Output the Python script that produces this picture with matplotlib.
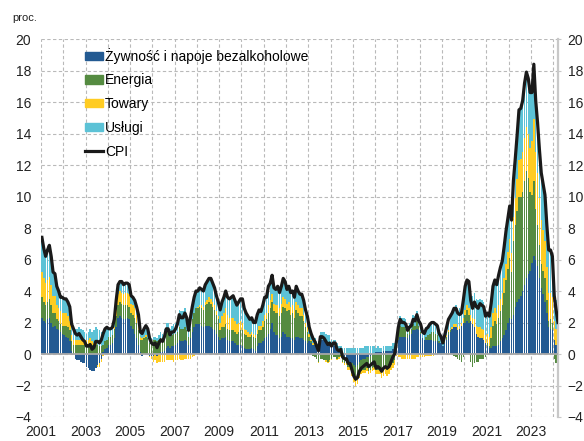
import numpy as np
import matplotlib
matplotlib.use("Agg")
import matplotlib.pyplot as plt
from matplotlib.patches import Patch
from matplotlib.lines import Line2D

plt.rcParams['font.family'] = ['Liberation Sans', 'DejaVu Sans']

START_YEAR = 2001

# CPI y/y, proc. (monthly, Jan 2001 - Mar 2024)
cpi = [
    7.4, 6.7, 6.2, 6.6, 6.9, 6.2, 5.2, 5.1, 4.3, 4.0, 3.6, 3.6,         # 2001
    3.5, 3.5, 3.3, 3.0, 1.9, 1.6, 1.3, 1.2, 1.3, 1.1, 0.9, 0.8,         # 2002
    0.5, 0.5, 0.6, 0.3, 0.4, 0.8, 0.8, 0.7, 0.9, 1.3, 1.6, 1.7,         # 2003
    1.6, 1.6, 1.7, 2.2, 3.4, 4.4, 4.6, 4.6, 4.4, 4.5, 4.5, 4.4,         # 2004
    3.7, 3.6, 3.4, 3.0, 2.5, 1.4, 1.3, 1.6, 1.8, 1.6, 1.0, 0.7,         # 2005
    0.6, 0.7, 0.4, 0.7, 0.9, 0.8, 1.1, 1.6, 1.6, 1.2, 1.4, 1.4,         # 2006
    1.6, 1.9, 2.5, 2.3, 2.3, 2.6, 2.3, 1.5, 2.3, 3.0, 3.6, 4.0,         # 2007
    4.0, 4.2, 4.1, 4.0, 4.4, 4.6, 4.8, 4.8, 4.5, 4.2, 3.7, 3.3,         # 2008
    2.8, 3.3, 3.6, 4.0, 3.6, 3.5, 3.6, 3.7, 3.4, 3.1, 3.3, 3.5,         # 2009
    3.5, 2.9, 2.6, 2.4, 2.2, 2.3, 2.0, 2.0, 2.5, 2.8, 2.7, 3.1,         # 2010
    3.6, 3.6, 4.3, 4.5, 5.0, 4.2, 4.1, 4.3, 3.9, 4.3, 4.8, 4.6,         # 2011
    4.1, 4.3, 3.9, 4.0, 3.6, 4.3, 4.0, 3.8, 3.8, 3.4, 2.8, 2.4,         # 2012
    1.7, 1.3, 1.0, 0.8, 0.5, 0.2, 1.1, 1.1, 1.0, 0.8, 0.6, 0.7,         # 2013
    0.5, 0.7, 0.7, 0.3, 0.2, 0.3, -0.2, -0.3, -0.3, -0.6, -0.6, -1.0,   # 2014
    -1.4, -1.6, -1.5, -1.1, -0.9, -0.8, -0.7, -0.6, -0.8, -0.7, -0.6, -0.5,  # 2015
    -0.9, -0.8, -0.9, -1.1, -0.9, -0.8, -0.9, -0.8, -0.5, -0.2, 0.0, 0.8,    # 2016
    1.7, 2.2, 2.0, 2.0, 1.9, 1.5, 1.7, 1.8, 2.2, 2.1, 2.5, 2.1,         # 2017
    1.9, 1.4, 1.3, 1.6, 1.7, 1.9, 2.0, 2.0, 1.9, 1.8, 1.3, 1.1,         # 2018
    0.7, 1.2, 1.7, 2.2, 2.4, 2.6, 2.9, 2.9, 2.6, 2.5, 2.6, 3.4,         # 2019
    4.3, 4.7, 4.6, 3.4, 2.9, 3.3, 3.0, 2.9, 3.2, 3.1, 3.0, 2.4,         # 2020
    2.6, 2.4, 3.2, 4.3, 4.7, 4.4, 5.0, 5.5, 5.9, 6.8, 7.8, 8.6,         # 2021
    9.4, 8.5, 11.0, 12.4, 13.9, 15.5, 15.6, 16.1, 17.2, 17.9, 17.5, 16.6,   # 2022
    16.6, 18.4, 16.1, 14.7, 13.0, 11.5, 10.8, 10.1, 8.2, 6.6, 6.6, 6.2,     # 2023
    3.7, 2.8, 2.0,                                                      # 2024
]

# contributions, pp
food = [
    2.3, 2.1, 2.0, 2.2, 2.3, 2.0, 1.7, 1.8, 1.6, 1.5, 1.4, 1.3,
    1.2, 1.1, 1.0, 0.8, 0.2, 0.0, -0.3, -0.4, -0.4, -0.5, -0.6, -0.6,
    -0.8, -0.9, -1.0, -1.1, -1.1, -0.9, -0.7, -0.6, -0.3, 0.1, 0.3, 0.4,
    0.6, 0.6, 0.7, 1.0, 1.7, 2.3, 2.4, 2.3, 2.2, 2.2, 2.3, 2.2,
    1.8, 1.6, 1.3, 1.0, 0.6, 0.1, -0.1, 0.0, 0.0, 0.0, -0.1, -0.1,
    -0.1, 0.0, -0.1, 0.0, 0.1, 0.1, 0.2, 0.4, 0.5, 0.4, 0.5, 0.5,
    0.6, 0.7, 0.9, 0.8, 0.8, 0.9, 0.8, 0.6, 1.0, 1.4, 1.7, 1.9,
    1.9, 1.9, 1.8, 1.7, 1.8, 1.8, 1.8, 1.7, 1.6, 1.5, 1.3, 1.1,
    0.9, 1.0, 1.0, 1.1, 0.9, 0.8, 0.8, 0.8, 0.7, 0.6, 0.6, 0.6,
    0.5, 0.4, 0.3, 0.3, 0.3, 0.4, 0.3, 0.2, 0.5, 0.7, 0.7, 0.8,
    1.0, 1.1, 1.3, 1.6, 2.0, 1.4, 1.2, 1.2, 1.0, 1.1, 1.4, 1.3,
    1.1, 1.1, 1.0, 1.0, 0.9, 1.1, 1.1, 1.0, 1.0, 0.9, 0.8, 0.7,
    0.8, 0.7, 0.6, 0.6, 0.5, 0.5, 0.9, 0.9, 0.9, 0.8, 0.7, 0.7,
    0.5, 0.5, 0.5, 0.3, 0.1, 0.0, -0.3, -0.4, -0.4, -0.5, -0.5, -0.6,
    -0.7, -0.8, -0.7, -0.5, -0.4, -0.3, -0.3, -0.2, -0.2, -0.1, 0.0, 0.0,
    0.1, 0.1, 0.1, 0.1, 0.2, 0.2, 0.2, 0.2, 0.2, 0.3, 0.3, 0.4,
    0.9, 1.1, 1.1, 1.1, 1.1, 1.0, 1.2, 1.3, 1.5, 1.5, 1.6, 1.5,
    1.3, 1.0, 0.9, 0.9, 0.9, 0.9, 0.9, 0.8, 0.8, 0.8, 0.7, 0.7,
    0.5, 0.7, 0.9, 1.2, 1.4, 1.6, 1.7, 1.7, 1.5, 1.6, 1.8, 2.0,
    2.0, 2.1, 2.0, 2.1, 1.9, 1.7, 1.3, 1.1, 1.0, 1.0, 0.9, 0.7,
    0.5, 0.4, 0.4, 0.5, 0.5, 0.5, 0.6, 0.8, 1.0, 1.2, 1.5, 2.0,
    2.3, 2.2, 2.5, 3.0, 3.3, 3.5, 3.7, 4.0, 4.4, 4.8, 5.1, 5.3,
    5.8, 6.2, 6.0, 5.6, 4.8, 4.2, 3.8, 3.3, 2.6, 1.7, 1.6, 1.5,
    0.9, 0.6, 0.5,
]

energy = [
    1.3, 1.2, 1.1, 1.1, 1.2, 1.1, 0.9, 0.8, 0.6, 0.6, 0.5, 0.5,
    0.6, 0.7, 0.7, 0.7, 0.6, 0.6, 0.6, 0.6, 0.6, 0.6, 0.6, 0.6,
    0.6, 0.6, 0.7, 0.6, 0.5, 0.6, 0.6, 0.5, 0.5, 0.5, 0.5, 0.5,
    0.5, 0.5, 0.5, 0.6, 0.7, 0.8, 0.9, 0.9, 0.9, 0.9, 0.8, 0.8,
    0.8, 0.9, 1.0, 1.0, 0.9, 0.8, 0.9, 1.0, 1.1, 1.0, 0.7, 0.6,
    0.9, 0.9, 0.8, 0.9, 0.9, 0.8, 0.9, 1.0, 0.9, 0.7, 0.7, 0.8,
    0.7, 0.7, 0.8, 0.8, 0.8, 0.8, 0.7, 0.5, 0.6, 0.8, 0.9, 1.0,
    1.0, 1.1, 1.1, 1.1, 1.3, 1.4, 1.5, 1.5, 1.4, 1.3, 1.2, 1.1,
    0.6, 0.7, 0.7, 0.8, 0.7, 0.7, 0.7, 0.7, 0.7, 0.7, 0.8, 0.9,
    1.0, 0.9, 0.9, 0.8, 0.8, 0.8, 0.8, 0.8, 0.8, 0.8, 0.8, 0.9,
    1.1, 1.1, 1.3, 1.3, 1.3, 1.3, 1.4, 1.4, 1.4, 1.5, 1.6, 1.6,
    1.6, 1.7, 1.5, 1.6, 1.4, 1.7, 1.5, 1.4, 1.4, 1.2, 0.9, 0.7,
    0.3, 0.1, -0.1, -0.2, -0.3, -0.5, -0.3, -0.3, -0.4, -0.4, -0.5, -0.4,
    -0.3, -0.2, -0.2, -0.3, -0.2, -0.1, -0.2, -0.2, -0.2, -0.3, -0.3, -0.6,
    -0.8, -0.9, -0.9, -0.8, -0.7, -0.7, -0.7, -0.7, -0.9, -0.9, -0.9, -0.8,
    -1.0, -1.0, -1.0, -1.1, -1.0, -0.9, -1.0, -0.9, -0.7, -0.6, -0.4, 0.0,
    0.6, 0.7, 0.6, 0.6, 0.5, 0.3, 0.3, 0.3, 0.4, 0.3, 0.5, 0.3,
    0.1, 0.0, 0.0, 0.2, 0.3, 0.4, 0.5, 0.6, 0.5, 0.4, 0.1, 0.0,
    0.0, 0.1, 0.2, 0.2, 0.1, 0.0, -0.1, -0.2, -0.3, -0.4, -0.5, -0.2,
    0.5, 0.7, 0.5, -0.5, -0.8, -0.6, -0.5, -0.5, -0.3, -0.3, -0.3, -0.2,
    0.2, 0.1, 0.6, 1.3, 1.6, 1.4, 1.7, 1.9, 2.1, 2.7, 3.2, 3.4,
    3.8, 3.0, 4.7, 5.2, 5.8, 6.5, 6.3, 6.3, 6.6, 6.8, 6.1, 5.0,
    4.3, 4.8, 3.2, 2.6, 2.1, 1.5, 1.5, 1.5, 0.8, 0.4, 0.6, 0.5,
    -0.3, -0.6, -0.9,
]

goods = [
    1.6, 1.5, 1.4, 1.4, 1.4, 1.3, 1.1, 1.1, 0.9, 0.8, 0.8, 0.8,
    0.8, 0.8, 0.7, 0.6, 0.4, 0.3, 0.3, 0.3, 0.3, 0.3, 0.3, 0.3,
    0.3, 0.3, 0.3, 0.2, 0.2, 0.1, -0.1, -0.2, -0.2, -0.1, 0.0, 0.0,
    0.0, 0.0, 0.0, 0.1, 0.4, 0.7, 0.7, 0.7, 0.7, 0.8, 0.8, 0.8,
    0.6, 0.6, 0.6, 0.5, 0.5, 0.2, 0.1, 0.1, 0.1, 0.0, -0.1, -0.2,
    -0.4, -0.4, -0.5, -0.5, -0.5, -0.5, -0.5, -0.4, -0.4, -0.4, -0.4, -0.5,
    -0.4, -0.4, -0.3, -0.4, -0.4, -0.3, -0.3, -0.3, -0.3, -0.2, -0.1, 0.0,
    0.1, 0.1, 0.2, 0.2, 0.2, 0.2, 0.3, 0.3, 0.3, 0.3, 0.2, 0.2,
    0.5, 0.7, 0.9, 1.0, 0.9, 0.8, 0.8, 0.8, 0.7, 0.6, 0.6, 0.6,
    0.5, 0.3, 0.3, 0.3, 0.2, 0.2, 0.2, 0.2, 0.2, 0.3, 0.3, 0.4,
    0.4, 0.4, 0.5, 0.5, 0.5, 0.5, 0.5, 0.5, 0.5, 0.6, 0.6, 0.6,
    0.5, 0.5, 0.5, 0.5, 0.5, 0.5, 0.5, 0.5, 0.5, 0.4, 0.3, 0.3,
    0.2, 0.1, 0.1, 0.0, 0.0, -0.1, 0.0, 0.0, 0.0, -0.1, -0.1, -0.1,
    -0.1, 0.0, 0.0, -0.1, -0.1, -0.1, -0.1, -0.1, -0.1, -0.2, -0.2, -0.2,
    -0.3, -0.3, -0.3, -0.2, -0.2, -0.2, -0.2, -0.2, -0.2, -0.2, -0.2, -0.2,
    -0.3, -0.3, -0.3, -0.4, -0.4, -0.4, -0.4, -0.4, -0.3, -0.3, -0.3, -0.1,
    -0.2, -0.2, -0.3, -0.3, -0.3, -0.3, -0.3, -0.3, -0.3, -0.3, -0.2, -0.2,
    -0.2, -0.2, -0.2, -0.1, -0.1, -0.1, -0.1, -0.1, 0.0, 0.0, 0.0, 0.0,
    0.0, 0.1, 0.1, 0.1, 0.1, 0.1, 0.2, 0.2, 0.2, 0.2, 0.2, 0.3,
    0.3, 0.3, 0.4, 0.4, 0.4, 0.5, 0.5, 0.6, 0.7, 0.6, 0.6, 0.5,
    0.6, 0.6, 0.7, 0.8, 0.8, 0.7, 0.8, 0.8, 0.8, 0.9, 1.0, 1.1,
    1.2, 1.2, 1.5, 1.7, 2.0, 2.3, 2.4, 2.5, 2.7, 2.8, 2.8, 2.8,
    3.4, 3.9, 3.6, 3.3, 3.0, 2.8, 2.6, 2.4, 2.1, 1.8, 1.7, 1.6,
    1.2, 1.0, 0.7,
]

services = [
    2.2, 1.9, 1.7, 1.9, 2.0, 1.8, 1.5, 1.4, 1.2, 1.1, 0.9, 1.0,
    0.9, 0.9, 0.9, 0.9, 0.7, 0.7, 0.7, 0.7, 0.8, 0.7, 0.6, 0.5,
    0.4, 0.5, 0.6, 0.6, 0.8, 1.0, 1.0, 1.0, 0.9, 0.8, 0.8, 0.8,
    0.5, 0.5, 0.5, 0.5, 0.6, 0.6, 0.6, 0.7, 0.6, 0.6, 0.6, 0.6,
    0.5, 0.5, 0.5, 0.5, 0.5, 0.3, 0.4, 0.5, 0.6, 0.6, 0.5, 0.4,
    0.2, 0.2, 0.2, 0.3, 0.4, 0.4, 0.5, 0.6, 0.6, 0.5, 0.6, 0.6,
    0.7, 0.9, 1.1, 1.1, 1.1, 1.2, 1.1, 0.7, 1.0, 1.0, 1.1, 1.1,
    1.0, 1.1, 1.0, 1.0, 1.1, 1.2, 1.2, 1.3, 1.2, 1.1, 1.0, 0.9,
    0.8, 0.9, 1.0, 1.1, 1.1, 1.2, 1.3, 1.4, 1.3, 1.2, 1.3, 1.4,
    1.5, 1.3, 1.1, 1.0, 0.9, 0.9, 0.7, 0.8, 1.0, 1.0, 0.9, 1.0,
    1.1, 1.0, 1.2, 1.1, 1.2, 1.0, 1.0, 1.2, 1.0, 1.1, 1.2, 1.1,
    0.9, 1.0, 0.9, 0.9, 0.8, 1.0, 0.9, 0.9, 0.9, 0.9, 0.8, 0.7,
    0.4, 0.4, 0.4, 0.4, 0.3, 0.3, 0.5, 0.5, 0.5, 0.5, 0.5, 0.5,
    0.4, 0.4, 0.4, 0.4, 0.4, 0.5, 0.4, 0.4, 0.4, 0.4, 0.4, 0.4,
    0.4, 0.4, 0.4, 0.4, 0.4, 0.4, 0.5, 0.5, 0.5, 0.5, 0.5, 0.5,
    0.3, 0.4, 0.3, 0.3, 0.3, 0.3, 0.3, 0.3, 0.3, 0.4, 0.4, 0.5,
    0.4, 0.6, 0.6, 0.6, 0.6, 0.5, 0.5, 0.5, 0.6, 0.6, 0.6, 0.5,
    0.7, 0.6, 0.6, 0.6, 0.6, 0.7, 0.7, 0.7, 0.6, 0.6, 0.5, 0.4,
    0.2, 0.3, 0.5, 0.7, 0.8, 0.9, 1.1, 1.2, 1.2, 1.1, 1.1, 1.3,
    1.5, 1.6, 1.7, 1.4, 1.4, 1.7, 1.7, 1.7, 1.8, 1.8, 1.8, 1.4,
    1.3, 1.3, 1.5, 1.7, 1.8, 1.8, 1.9, 2.0, 2.0, 2.0, 2.1, 2.1,
    2.1, 2.1, 2.3, 2.5, 2.8, 3.2, 3.2, 3.3, 3.5, 3.5, 3.5, 3.5,
    3.1, 3.5, 3.3, 3.2, 3.1, 3.0, 2.9, 2.9, 2.7, 2.7, 2.7, 2.6,
    1.9, 1.8, 1.7,
]

labels = ["Żywność i napoje bezalkoholowe", "Energia", "Towary", "Usługi", "CPI"]
colors = ["#235a92", "#558b41", "#ffcc22", "#5cc2d6"]

n = len(cpi)
x = START_YEAR + (np.arange(n) + 0.5) / 12

fig = plt.figure(figsize=(5.84, 4.41), dpi=100)
ax = fig.add_axes([41 / 584, 1 - 417 / 441, (558 - 41) / 584, (417 - 39) / 441])

# stacked bars: positives up from zero, negatives down from zero
pos_base = np.zeros(n)
neg_base = np.zeros(n)
for vals, col in zip([food, energy, goods, services], colors):
    v = np.array(vals)
    bottom = np.where(v >= 0, pos_base, neg_base)
    ax.bar(x, v, bottom=bottom, width=0.8 / 12, color=col, linewidth=0, zorder=2)
    pos_base += np.clip(v, 0, None)
    neg_base += np.clip(v, None, 0)

ax.axhline(0, color="#a8a8a8", lw=1.3, zorder=3)
ax.plot(x, cpi, color="#1a1a1a", lw=2.3, zorder=4, solid_joinstyle="round")

ax.set_xlim(START_YEAR, 2024.21)
ax.set_ylim(-4, 20)
ax.set_yticks(range(-4, 21, 2))
years = list(range(2001, 2025))
ax.set_xticks(years)
ax.set_xticklabels([str(y) if (y - 2001) % 2 == 0 else "" for y in years])

ax.grid(True, color="#b9b9b9", lw=0.8, ls=(0, (3, 2.2)), zorder=0)
ax.set_axisbelow(True)

for side in ["top", "left", "bottom"]:
    ax.spines[side].set_visible(False)
ax.spines["right"].set_color("#c8c8c8")
ax.spines["right"].set_linewidth(1.6)

ax.tick_params(axis="y", left=False, right=True, labelleft=True, labelright=True,
               length=2.5, color="#c8c8c8", pad=4.5, labelsize=10, labelcolor="#222222")
ax.tick_params(axis="x", length=0, pad=6, labelsize=10, labelcolor="#222222")

fig.text(12 / 584, 1 - 18 / 441, "proc.", fontsize=8, color="#222222", va="center")

handles = [Patch(color=c) for c in colors] + [Line2D([], [], color="#1a1a1a", lw=2.3)]
ax.legend(handles, labels, loc="upper left", bbox_to_anchor=(0.086, 0.977),
          frameon=False, fontsize=10, borderaxespad=0, borderpad=0,
          handlelength=1.25, handleheight=0.55, handletextpad=0.15,
          labelspacing=0.7)

fig.savefig("out.png", dpi=100)
